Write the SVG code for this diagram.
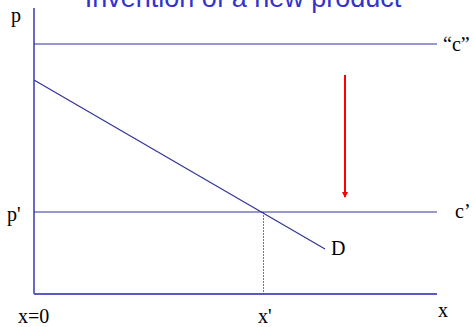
<svg xmlns="http://www.w3.org/2000/svg" width="474" height="327" viewBox="0 0 474 327">
<style>
.lbl{font-family:"Liberation Serif",serif;font-size:20px;fill:#000}
.ln{stroke:#333399;stroke-width:1.2;fill:none}
.ax{stroke:#5a5ac0;stroke-width:1.8;fill:none}
</style>
<defs>
<marker id="ah" markerWidth="6" markerHeight="6" refX="5" refY="3" orient="auto" markerUnits="userSpaceOnUse">
<path d="M0,0 L6,3 L0,6 Z" fill="#ff0000"/>
</marker>
</defs>
<rect width="474" height="327" fill="#fff"/>
<text x="243" y="7" text-anchor="middle" font-family="Liberation Sans,Arial,sans-serif" font-size="27" fill="#3333cc">Invention of a new product</text>
<g id="connectors">
<line class="ax" x1="34" y1="8" x2="34" y2="294"/>
<line class="ax" x1="34" y1="294" x2="437" y2="294"/>
<line class="ln" x1="34" y1="44" x2="437" y2="44"/>
<line class="ln" x1="34" y1="212" x2="437" y2="212"/>
<line class="ln" x1="34" y1="80" x2="325" y2="249"/>
<line x1="263.5" y1="212" x2="263.5" y2="294" stroke="#333399" stroke-width="0.7" stroke-dasharray="2,1"/>
<line x1="345" y1="75" x2="345" y2="197" stroke="#ff0000" stroke-width="2" marker-end="url(#ah)"/>
</g>
<g id="labels">
<text class="lbl" x="11" y="22">p</text>
<text class="lbl" x="443" y="51">“c”</text>
<text class="lbl" x="7" y="221">p'</text>
<text class="lbl" x="455" y="218">c’</text>
<text class="lbl" x="331" y="255">D</text>
<text class="lbl" x="18" y="323">x=0</text>
<text class="lbl" x="258" y="323">x'</text>
<text class="lbl" x="438" y="317">x</text>
</g>
</svg>
